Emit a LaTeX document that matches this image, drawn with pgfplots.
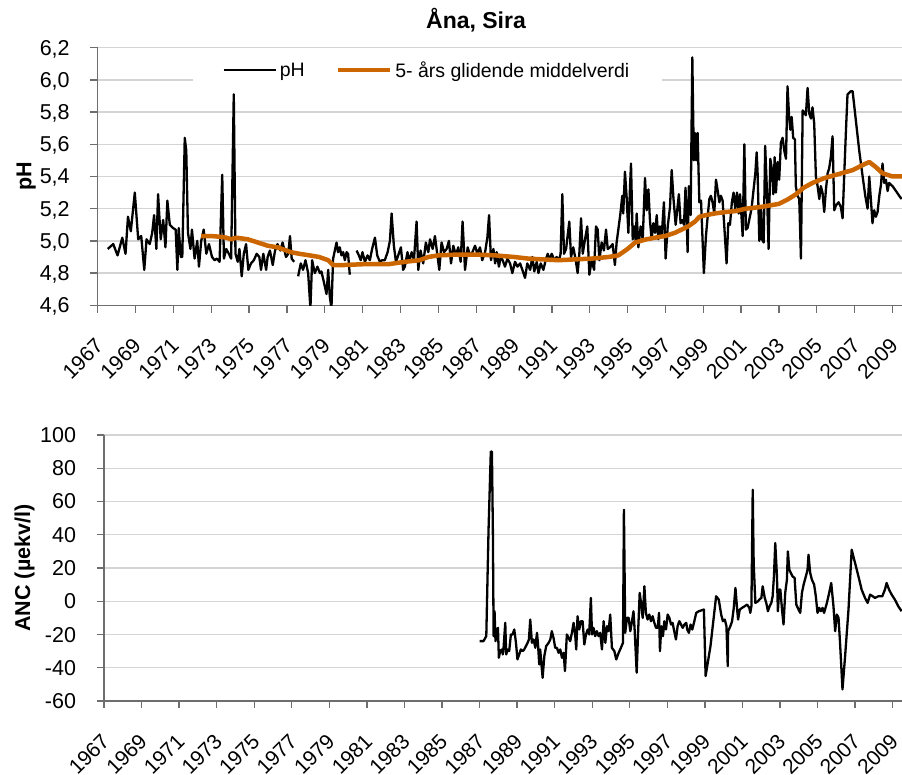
\documentclass[border=0pt]{standalone}
\usepackage{pgfplots}
\pgfplotsset{compat=1.18}
\usepackage{fontspec}
\setmainfont{Liberation Sans}
\definecolor{ornge}{RGB}{204,102,0}
\definecolor{gridc}{RGB}{212,212,212}
\definecolor{axc}{RGB}{110,110,110}
\begin{document}
\begin{tikzpicture}
\useasboundingbox (0pt,0pt) rectangle (902pt,775pt);
\pgfplotsset{
  base/.style={
    scale only axis,
    axis x line=bottom, axis y line=left,
    axis line style={axc, line width=1.3pt, -},
    xmin=1967, xmax=2009.5,
    xtick={1967,1969,...,2009},
    tick style={axc, line width=1.3pt},
    major tick length=7.5pt, tick align=outside,
    ymajorgrids, major grid style={gridc, line width=1.4pt},
    /pgf/number format/assume math mode=true,
    /pgf/number format/1000 sep={},
    xticklabel style={xshift=2.4pt, yshift=-28.5pt, rotate=45, anchor=east, inner sep=1pt, font=\fontsize{21}{25}\selectfont},
    yticklabel style={xshift=-17pt, text depth=0pt, font=\fontsize{21.5}{25}\selectfont},
    unbounded coords=jump,
  }
}
% ---------------- top: pH
\begin{axis}[base,
  at={(97.7pt,469.7pt)}, anchor=south west,
  width=804.3pt, height=257.6pt,
  ymin=4.6, ymax=6.2, ytick={4.6,4.8,...,6.21},
  yticklabel style={/pgf/number format/.cd, use comma, fixed, fixed zerofill, precision=1},
  ylabel={\bfseries pH},
  every axis y label/.style={at={(axis description cs:-0.089,0.5)}, rotate=90, anchor=center, font=\fontsize{21.5}{26}\selectfont},
  title={\bfseries Åna, Sira},
  title style={at={(0.4704,1.084)}, anchor=center, font=\fontsize{23}{27}\selectfont},
  legend style={at={(0.41,0.913)}, anchor=center, draw=none, fill=white,
    font=\fontsize{19.5}{22}\selectfont, inner xsep=30pt, inner ysep=4pt,
    /tikz/every even column/.append style={column sep=28pt},
    nodes={inner xsep=3pt}},
  legend columns=2,
  legend image code/.code={\draw[#1] (0pt,0pt) -- (52pt,0pt);},
]
\addplot[black, line width=2.3pt, line join=round] table {
1967.53 4.95
1967.82 4.98
1968.05 4.91
1968.30 5.02
1968.47 4.92
1968.60 5.15
1968.75 5.06
1968.96 5.30
1969.14 5.01
1969.30 5.03
1969.46 4.82
1969.58 5.01
1969.75 4.98
1969.88 5.05
1969.98 5.16
1970.10 4.95
1970.19 5.29
1970.33 5.01
1970.46 5.13
1970.58 4.96
1970.68 5.25
1970.81 5.10
1970.98 5.08
1971.12 5.07
1971.21 4.82
1971.28 5.08
1971.39 4.90
1971.47 4.90
1971.60 5.64
1971.68 5.56
1971.77 5.05
1971.90 4.95
1971.98 5.07
1972.12 4.89
1972.26 5.00
1972.35 4.84
1972.47 5.00
1972.60 5.07
1972.74 4.92
1972.88 4.98
1973.04 4.90
1973.18 4.88
1973.30 4.89
1973.44 4.87
1973.58 5.41
1973.67 4.89
1973.79 4.95
1973.93 4.92
1974.05 4.89
1974.19 5.91
1974.28 4.92
1974.40 4.87
1974.49 4.95
1974.61 4.78
1974.72 4.92
1974.84 4.98
1974.96 4.82
1975.10 4.86
1975.25 4.88
1975.40 4.92
1975.54 4.90
1975.63 4.82
1975.75 4.92
1975.90 4.82
1975.98 4.90
1976.10 4.94
1976.25 4.85
1976.37 4.94
1976.50 4.98
1976.65 4.94
1976.77 4.99
1976.95 4.90
1977.07 4.92
1977.16 5.03
1977.25 4.89
1977.38 4.87
nan nan
1977.59 4.78
1977.73 4.86
1977.85 4.82
1977.98 4.88
1978.12 4.80
1978.24 4.58
1978.33 4.88
1978.47 4.80
1978.61 4.84
1978.74 4.80
1978.82 4.81
1978.96 4.74
1979.09 4.67
1979.18 4.82
1979.26 4.66
1979.35 4.58
1979.44 4.89
1979.62 4.99
1979.70 4.93
1979.79 4.96
1979.88 4.91
1979.97 4.93
1980.06 4.88
1980.15 4.93
1980.23 4.92
1980.32 4.79
nan nan
1980.68 4.94
1980.80 4.91
1980.90 4.88
1980.99 4.93
1981.12 4.87
1981.26 4.91
1981.38 4.88
1981.50 4.95
1981.65 5.02
1981.77 4.91
1981.91 4.87
1982.03 4.88
1982.17 4.88
1982.32 4.93
1982.44 5.00
1982.53 5.17
1982.65 4.97
1982.76 4.87
1982.88 4.91
1983.02 4.96
1983.14 4.82
1983.23 4.84
1983.37 4.93
1983.46 4.87
1983.59 4.93
1983.71 4.88
1983.85 5.12
1983.94 4.82
1984.06 4.94
1984.20 4.86
1984.34 4.99
1984.47 4.93
1984.56 5.01
1984.70 4.95
1984.82 5.03
1984.94 4.92
1985.05 4.82
1985.17 4.99
1985.30 4.93
1985.44 4.95
1985.56 5.00
1985.67 4.86
1985.79 4.97
1985.93 4.91
1986.05 4.96
1986.18 4.87
1986.28 5.12
1986.41 4.82
1986.55 4.96
1986.67 4.91
1986.80 4.93
1986.94 4.97
1987.06 4.92
1987.20 4.96
1987.32 4.88
1987.47 4.93
1987.59 5.02
1987.68 5.16
1987.78 4.88
1987.91 4.95
1988.00 4.86
1988.08 4.93
1988.20 4.84
1988.30 4.90
1988.40 4.88
1988.52 4.84
1988.65 4.89
1988.79 4.86
1988.91 4.80
1989.05 4.87
1989.18 4.84
1989.32 4.86
1989.44 4.82
1989.58 4.77
1989.70 4.86
1989.85 4.82
1989.97 4.90
1990.07 4.81
1990.20 4.87
1990.29 4.80
1990.41 4.86
1990.55 4.82
1990.67 4.88
1990.78 4.92
1990.87 4.88
1990.99 4.92
1991.13 4.88
1991.25 4.90
1991.38 4.88
1991.46 4.92
1991.55 5.29
1991.64 4.92
1991.75 4.95
1991.83 5.03
1991.92 5.12
1992.01 4.90
1992.13 4.96
1992.26 4.88
1992.36 4.80
1992.45 4.92
1992.54 5.14
1992.63 4.92
1992.75 5.01
1992.87 5.09
1992.98 4.79
1993.10 4.88
1993.23 4.82
1993.33 5.09
1993.42 5.07
1993.51 4.88
1993.63 4.99
1993.75 4.94
1993.86 5.07
1993.95 4.95
1994.07 4.96
1994.21 4.98
1994.33 4.85
1994.42 4.99
1994.51 5.07
1994.62 5.17
1994.72 5.28
1994.77 5.17
1994.86 5.43
1994.95 5.27
1995.04 5.05
1995.13 5.34
1995.18 5.48
1995.27 5.01
1995.36 5.09
1995.43 4.99
1995.48 5.17
1995.57 4.96
1995.69 5.09
1995.80 5.01
1995.92 5.39
1996.01 5.19
1996.10 5.32
1996.18 5.13
1996.27 5.01
1996.36 5.11
1996.45 5.05
1996.54 5.16
1996.62 5.01
1996.71 5.09
1996.80 5.03
1996.92 5.24
1997.01 4.89
1997.12 5.09
1997.24 5.21
1997.33 5.44
1997.42 5.27
1997.54 5.10
1997.63 5.20
1997.71 5.29
1997.80 5.11
1997.89 5.13
1997.98 5.10
1998.06 5.33
1998.12 5.15
1998.17 4.93
1998.24 5.34
1998.33 5.16
1998.42 6.14
1998.50 5.50
1998.56 5.67
1998.62 5.50
1998.70 5.67
1998.79 5.24
1998.88 5.25
1998.96 5.01
1999.03 4.80
1999.14 5.03
1999.23 5.15
1999.32 5.26
1999.40 5.28
1999.49 5.24
1999.58 5.17
1999.67 5.38
1999.75 5.32
1999.85 5.24
1999.93 5.28
2000.02 5.25
2000.11 5.09
2000.23 4.86
2000.32 5.11
2000.41 5.10
2000.51 5.24
2000.60 5.30
2000.69 5.20
2000.78 5.30
2000.87 5.17
2000.94 5.29
2001.02 5.15
2001.08 5.03
2001.17 5.60
2001.25 5.07
2001.34 5.08
2001.46 5.15
2001.55 5.20
2001.64 5.30
2001.75 5.42
2001.82 5.55
2001.87 5.42
2001.96 5.00
2002.05 5.21
2002.10 5.01
2002.19 4.99
2002.27 5.59
2002.36 5.32
2002.45 4.95
2002.54 5.51
2002.63 5.44
2002.70 5.29
2002.77 5.52
2002.84 5.30
2002.93 5.49
2003.01 5.38
2003.10 5.61
2003.19 5.64
2003.28 5.56
2003.37 5.51
2003.45 5.96
2003.54 5.76
2003.60 5.69
2003.67 5.77
2003.75 5.64
2003.84 5.63
2003.89 5.34
2003.98 5.28
2004.07 5.26
2004.16 4.89
2004.25 5.81
2004.33 5.80
2004.42 5.78
2004.51 5.95
2004.60 5.79
2004.69 5.76
2004.77 5.83
2004.86 5.73
2004.95 5.40
2005.04 5.34
2005.13 5.26
2005.21 5.34
2005.30 5.30
2005.39 5.18
2005.48 5.32
2005.57 5.42
2005.65 5.45
2005.74 5.52
2005.83 5.65
2005.92 5.19
2006.01 5.22
2006.15 5.24
2006.27 5.21
2006.36 5.14
2006.45 5.42
2006.54 5.69
2006.62 5.91
2006.80 5.93
2006.89 5.93
2007.06 5.75
2007.24 5.56
2007.42 5.40
2007.56 5.28
2007.68 5.20
2007.77 5.40
2007.86 5.25
2007.94 5.11
2008.03 5.19
2008.12 5.15
2008.21 5.18
2008.30 5.28
2008.39 5.35
2008.47 5.48
2008.56 5.36
2008.65 5.38
2008.74 5.31
2008.82 5.36
2009.00 5.34
2009.18 5.31
2009.35 5.28
2009.48 5.26
};
\addlegendentry{pH}
\addplot[ornge, line width=4.5pt, line join=round] table {
1972.47 5.03
1973.00 5.03
1973.53 5.025
1973.80 5.02
1974.05 5.01
1974.32 5.02
1974.93 5.01
1975.46 4.99
1975.98 4.97
1976.50 4.96
1976.86 4.945
1977.21 4.93
1977.65 4.92
1978.20 4.91
1978.70 4.90
1979.18 4.88
1979.44 4.85
1980.00 4.85
1981.00 4.855
1982.35 4.855
1983.23 4.87
1984.00 4.88
1984.47 4.90
1985.00 4.91
1986.00 4.915
1987.00 4.915
1988.00 4.91
1989.00 4.90
1989.76 4.89
1990.50 4.885
1991.34 4.88
1992.20 4.885
1993.10 4.89
1994.00 4.90
1994.51 4.91
1995.00 4.95
1995.40 4.99
1996.00 5.01
1996.45 5.02
1996.97 5.03
1997.50 5.05
1998.20 5.09
1998.56 5.12
1998.80 5.15
1999.14 5.16
1999.60 5.17
2000.20 5.18
2000.70 5.185
2001.25 5.20
2002.00 5.21
2003.00 5.23
2003.50 5.26
2003.90 5.29
2004.30 5.33
2004.77 5.36
2005.40 5.39
2006.00 5.41
2006.90 5.44
2007.40 5.47
2007.77 5.49
2008.10 5.46
2008.47 5.42
2009.00 5.40
2009.50 5.40
};
\addlegendentry{5- års glidende middelverdi}
\end{axis}
% ---------------- bottom: ANC
\begin{axis}[base,
  at={(104pt,74pt)}, anchor=south west,
  width=798pt, height=266pt,
  ymin=-60, ymax=100, ytick={-60,-40,...,100},
  ylabel={\bfseries ANC (µekv/l)},
  every axis y label/.style={at={(axis description cs:-0.0996,0.5)}, rotate=90, anchor=center, font=\fontsize{21.5}{26}\selectfont},
]
\addplot[black, line width=2.3pt, line join=round] table {
1987.00 -24
1987.21 -24
1987.36 -21
1987.48 43
1987.60 90
1987.66 90
1987.71 43
1987.75 -21
1987.80 -6
1987.85 -24
1987.92 -17
1987.98 -16
1988.03 -34
1988.10 -30
1988.19 -29
1988.24 -32
1988.28 -28
1988.37 -13
1988.42 -32
1988.49 -29
1988.58 -30
1988.67 -20
1988.76 -20
1988.85 -17
1988.94 -25
1989.02 -35
1989.11 -32
1989.20 -29
1989.29 -30
1989.38 -29
1989.47 -27
1989.56 -25
1989.63 -23
1989.70 -11
1989.79 -25
1989.88 -23
1989.97 -28
1990.06 -19
1990.11 -25
1990.18 -38
1990.23 -29
1990.29 -37
1990.36 -46
1990.45 -33
1990.55 -27
1990.68 -25
1990.77 -23
1990.85 -18
1990.94 -22
1991.03 -28
1991.12 -28
1991.21 -31
1991.30 -29
1991.39 -34
1991.48 -31
1991.55 -42
1991.65 -20
1991.74 -22
1991.83 -24
1991.92 -19
1992.01 -13
1992.10 -21
1992.15 -29
1992.22 -9
1992.31 -17
1992.40 -12
1992.49 -12
1992.58 -26
1992.67 -20
1992.76 -17
1992.84 -20
1992.93 2
1992.99 -20
1993.07 -16
1993.16 -21
1993.25 -18
1993.34 -21
1993.43 -19
1993.52 -29
1993.61 -12
1993.70 -25
1993.79 -15
1993.87 -18
1993.96 -8
1994.05 -28
1994.18 -30
1994.28 -35
1994.41 -31
1994.53 -28
1994.64 -25
1994.69 55
1994.76 -19
1994.85 -10
1994.94 -10
1995.03 -18
1995.12 -12
1995.20 -6
1995.26 -17
1995.37 -43
1995.44 -20
1995.53 5
1995.60 -1
1995.69 -10
1995.78 9
1995.86 -7
1995.95 -11
1996.04 -8
1996.13 -12
1996.22 -9
1996.31 -13
1996.40 -16
1996.49 -16
1996.56 -7
1996.61 -30
1996.68 -15
1996.77 -21
1996.84 -12
1996.93 -17
1997.02 -8
1997.11 -10
1997.20 -14
1997.28 -13
1997.37 -18
1997.46 -23
1997.55 -15
1997.64 -12
1997.73 -14
1997.82 -16
1997.91 -14
1998.01 -13
1998.06 -17
1998.15 -19
1998.24 -14
1998.33 -17
1998.42 -13
1998.54 -7
1998.68 -6
1998.95 -5
1999.04 -45
1999.30 -27
1999.60 3
1999.74 1
1999.87 -8
1999.96 -12
2000.06 -11
2000.15 -15
2000.22 -39
2000.24 -18
2000.36 -15
2000.45 -12
2000.54 -4
2000.63 8
2000.72 -5
2000.77 -11
2000.86 -5
2000.98 -4
2001.12 -3
2001.25 -2
2001.37 -4
2001.42 -7
2001.48 -3
2001.55 67
2001.60 23
2001.69 -1
2001.83 0
2001.90 1
2002.01 2
2002.08 9
2002.19 2
2002.27 -1
2002.36 -6
2002.45 -3
2002.54 -1
2002.61 3
2002.68 15
2002.75 35
2002.84 15
2002.89 -6
2002.96 7
2003.02 7
2003.11 -5
2003.19 -14
2003.28 5
2003.37 13
2003.42 30
2003.50 19
2003.58 17
2003.67 15
2003.78 14
2003.87 -2
2003.99 -5
2004.08 -7
2004.17 5
2004.26 10
2004.38 15
2004.47 19
2004.52 28
2004.61 17
2004.70 13
2004.82 10
2004.91 3
2005.00 -7
2005.09 -4
2005.18 -6
2005.27 -4
2005.35 -7
2005.50 -1
2005.62 5
2005.73 11
2005.85 -3
2005.94 -18
2006.03 -8
2006.12 -10
2006.20 -25
2006.33 -53
2006.47 -33
2006.65 -5
2006.82 31
2007.00 23
2007.18 15
2007.35 7
2007.53 2
2007.67 -1
2007.80 4
2007.94 3
2008.06 2
2008.24 3
2008.45 3
2008.59 7
2008.68 11
2008.81 7
2008.95 4
2009.12 1
2009.30 -3
2009.48 -6
};
\end{axis}
\end{tikzpicture}
\end{document}
